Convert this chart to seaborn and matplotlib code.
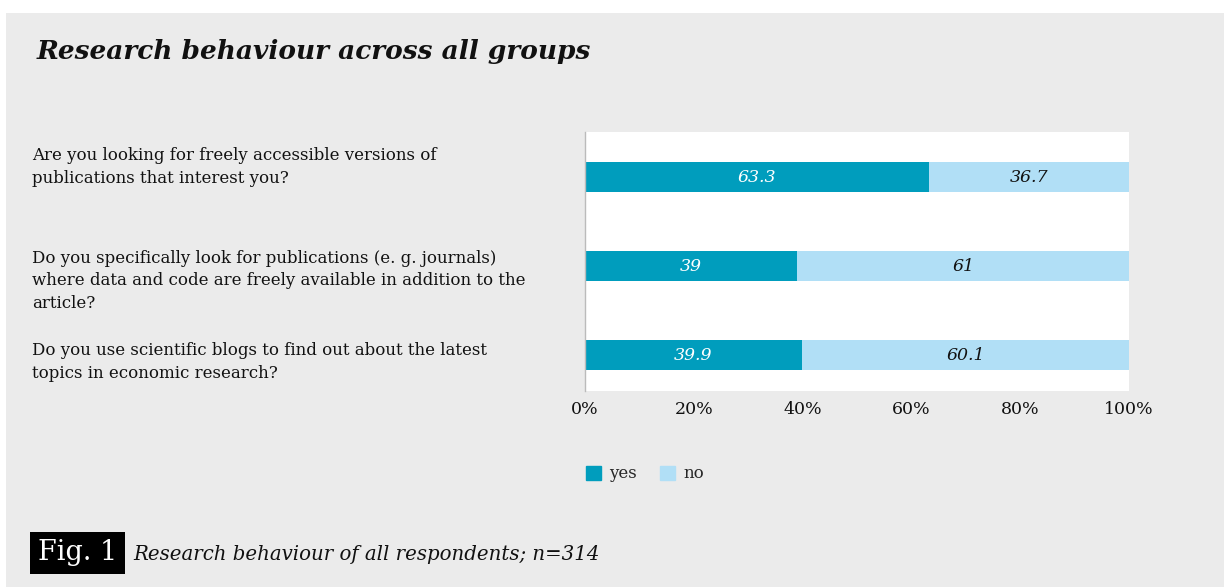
import matplotlib
matplotlib.use("Agg")
import matplotlib.pyplot as plt
from matplotlib.patches import Rectangle
from matplotlib.transforms import ScaledTranslation
import seaborn as sns
import pandas as pd

# Survey questions and shares of respondents (percent)
questions = [
    "Are you looking for freely accessible versions of\npublications that interest you?",
    "Do you specifically look for publications (e. g. journals)\nwhere data and code are freely available in addition to the\narticle?",
    "Do you use scientific blogs to find out about the latest\ntopics in economic research?",
]
yes_share = [63.3, 39.0, 39.9]
no_share = [36.7, 61.0, 60.1]
yes_labels = ["63.3", "39", "39.9"]
no_labels = ["36.7", "61", "60.1"]
x_ticks = [0, 20, 40, 60, 80, 100]
x_tick_labels = ["0%", "20%", "40%", "60%", "80%", "100%"]

YES_COLOR = "#009dbd"
NO_COLOR = "#b1dff6"
PANEL = "#ebebeb"
INK = "#111111"
SERIF = "DejaVu Serif"

df = pd.DataFrame({"question": questions, "yes": yes_share, "no": no_share})
df["total"] = df["yes"] + df["no"]

sns.set_theme(style="white")
plt.rcParams["font.family"] = [SERIF]

W, H = 1224, 587
fig = plt.figure(figsize=(W / 100, H / 100), dpi=100)
fig.patch.set_facecolor("white")

# grey panel behind everything
fig.patches.append(Rectangle((6 / W, 0), 1 - 6 / W, 1 - 13 / H,
                             transform=fig.transFigure, facecolor=PANEL,
                             edgecolor="none", zorder=-10))

ax = fig.add_axes([585 / W, 1 - 391 / H, (1129 - 585) / W, (391 - 132) / H])
ax.set_facecolor("white")

# stacked bars: full-length "no" bar underneath, "yes" bar on top
sns.barplot(data=df, y="question", x="total", color=NO_COLOR, orient="h",
            width=0.337, ax=ax, saturation=1, edgecolor="none")
sns.barplot(data=df, y="question", x="yes", color=YES_COLOR, orient="h",
            width=0.337, ax=ax, saturation=1, edgecolor="none")

for i, (y, n) in enumerate(zip(df["yes"], df["no"])):
    ax.text(y / 2, i, yes_labels[i], ha="center", va="center", color="white",
            fontsize=12.5, fontstyle="italic", family=SERIF)
    ax.text(y + n / 2, i, no_labels[i], ha="center", va="center", color=INK,
            fontsize=12.5, fontstyle="italic", family=SERIF)

ax.set_xlim(0, 100)
ax.set_ylim(2.40, -0.506)
ax.set_xticks(x_ticks)
ax.set_xticklabels(x_tick_labels, fontsize=12.5, color=INK)
ax.set_xlabel("")
ax.set_ylabel("")
ax.tick_params(axis="x", length=0, pad=7)
ax.tick_params(axis="y", length=0, pad=(585 - 32) * 0.72)

# question labels sit slightly off their bar centres
label_shift_px = [-15, 10, 2]
for lab, dy in zip(ax.get_yticklabels(), label_shift_px):
    lab.set_horizontalalignment("left")
    lab.set_fontsize(12)
    lab.set_color(INK)
    lab.set_linespacing(1.42)
    lab.set_transform(lab.get_transform() + ScaledTranslation(0, -dy / 100, fig.dpi_scale_trans))

for side in ["top", "right", "bottom"]:
    ax.spines[side].set_visible(False)
ax.spines["left"].set_color("#bbbbbb")
ax.spines["left"].set_linewidth(1)

# title
fig.text(37 / W, 1 - 52 / H, "Research behaviour across all groups",
         fontsize=19, fontweight="bold", fontstyle="italic", va="center",
         ha="left", color=INK)

# legend
handles = [Rectangle((0, 0), 1, 1, color=YES_COLOR), Rectangle((0, 0), 1, 1, color=NO_COLOR)]
fig.legend(handles, ["yes", "no"], loc="center left",
           bbox_to_anchor=(571 / W, 1 - 474 / H), ncol=2, frameon=False,
           fontsize=12, handlelength=0.9, handleheight=0.9, handletextpad=0.5,
           columnspacing=1.4)

# figure caption
fig.text(38 / W, 1 - 553 / H, "Fig. 1", fontsize=19.5, color="white", va="center",
         ha="left", bbox=dict(boxstyle="square,pad=0.28", facecolor="black", edgecolor="none"))
fig.text(133 / W, 1 - 554 / H, "Research behaviour of all respondents; n=314",
         fontsize=14.2, fontstyle="italic", va="center", ha="left", color=INK)

fig.savefig("out.png", dpi=100, facecolor=fig.get_facecolor())
